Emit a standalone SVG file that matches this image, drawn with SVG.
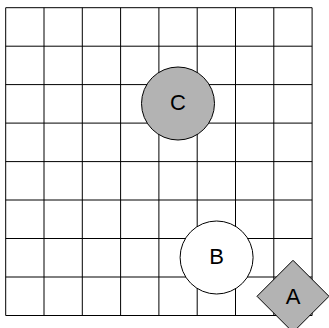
<svg xmlns="http://www.w3.org/2000/svg" width="329" height="328" viewBox="0 0 329 328">
<style>
.grid line{stroke:#000;stroke-width:1}
.node{stroke:#000;stroke-width:1}
.gray{fill:#b3b3b3}
.white{fill:#fff}
.lbl{font-family:"Liberation Sans",Arial,sans-serif;font-size:22px;text-anchor:middle;fill:#000}
</style>
<rect width="329" height="328" fill="#fff"/>
<g id="grid" class="grid">
<line x1="5.7" y1="7.7" x2="5.7" y2="315.5"/>
<line x1="44" y1="7.7" x2="44" y2="315.5"/>
<line x1="82.3" y1="7.7" x2="82.3" y2="315.5"/>
<line x1="120.6" y1="7.7" x2="120.6" y2="315.5"/>
<line x1="158.9" y1="7.7" x2="158.9" y2="315.5"/>
<line x1="197.2" y1="7.7" x2="197.2" y2="315.5"/>
<line x1="235.5" y1="7.7" x2="235.5" y2="315.5"/>
<line x1="273.8" y1="7.7" x2="273.8" y2="315.5"/>
<line x1="312.1" y1="7.7" x2="312.1" y2="315.5"/>
<line x1="5.7" y1="7.7" x2="312.1" y2="7.7"/>
<line x1="5.7" y1="46.2" x2="312.1" y2="46.2"/>
<line x1="5.7" y1="84.6" x2="312.1" y2="84.6"/>
<line x1="5.7" y1="123.1" x2="312.1" y2="123.1"/>
<line x1="5.7" y1="161.6" x2="312.1" y2="161.6"/>
<line x1="5.7" y1="200" x2="312.1" y2="200"/>
<line x1="5.7" y1="238.5" x2="312.1" y2="238.5"/>
<line x1="5.7" y1="277" x2="312.1" y2="277"/>
<line x1="5.7" y1="315.5" x2="312.1" y2="315.5"/>
</g>
<g id="connectors"></g>
<g id="C">
<circle class="node gray" cx="178" cy="103.5" r="36.5"/>
<text class="lbl" x="178" y="110">C</text>
</g>
<g id="B">
<circle class="node white" cx="216.6" cy="257.5" r="36.5"/>
<text class="lbl" x="216.6" y="264">B</text>
</g>
<g id="A">
<polygon class="node gray" points="293,260.3 329,296.3 293,332.3 257,296.3"/>
<text class="lbl" x="293" y="304">A</text>
</g>
</svg>
